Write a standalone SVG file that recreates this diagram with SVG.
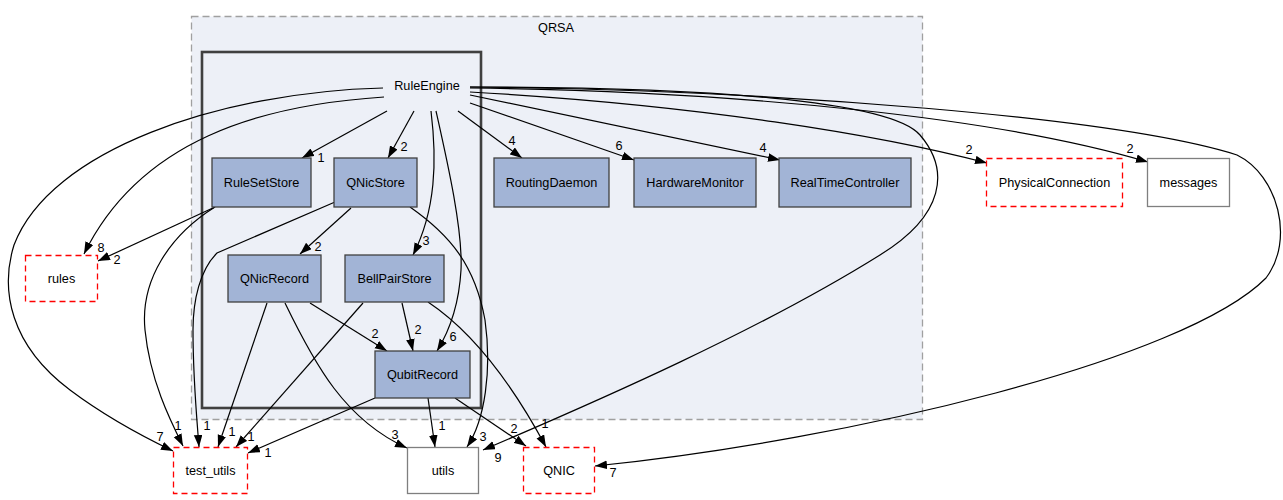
<svg xmlns="http://www.w3.org/2000/svg" width="1283" height="500" viewBox="0 0 1283 500">
<style>
text{font-family:"Liberation Sans",Arial,sans-serif;font-size:12.7px;fill:#000}
.n text,.lbl text{text-anchor:middle}
.blue rect{fill:#a2b4d6;stroke:#404040;stroke-width:1.3}
.red rect{fill:#fff;stroke:#ff0000;stroke-width:1.3;stroke-dasharray:6,4}
.gray rect{fill:#fff;stroke:#7f7f7f;stroke-width:1.3}
.e path{fill:none;stroke:#000;stroke-width:1.2;marker-end:url(#ah)}
</style>
<defs>
<marker id="ah" markerUnits="userSpaceOnUse" markerWidth="12" markerHeight="9" refX="12" refY="4.3" orient="auto">
<path d="M0,0 L12,4.3 L0,8.6 z" fill="#000"/>
</marker>
</defs>
<rect width="1283" height="500" fill="#fff"/>
<g id="cluster_QRSA">
<rect x="191.5" y="16.5" width="731" height="403" fill="#edf0f7" stroke="#a0a0a0" stroke-width="1.3" stroke-dasharray="7,4"/>
<text x="556" y="32" text-anchor="middle">QRSA</text>
</g>
<g id="cluster_RuleEngine">
<rect x="202" y="52" width="279" height="356" fill="#edf0f7" stroke="#404040" stroke-width="2.6"/>
<text x="427" y="90" text-anchor="middle">RuleEngine</text>
</g>
<g class="e" id="edges">
<path d="M387,111 L302,158"/>
<path d="M414,111 L388,158"/>
<path d="M431,111 C437,160 436,210 413,255"/>
<path d="M436,111 C447,160 463,230 461,270 C459,305 450,330 437,351"/>
<path d="M458,111 L522,158"/>
<path d="M470,103 L634,160"/>
<path d="M470,95 L780,160"/>
<path d="M470,92 C700,105 880,135 987,163"/>
<path d="M470,88 C750,92 1000,118 1148,162"/>
<path d="M470,87 C780,90 1120,118 1237,155 C1278,175 1295,240 1266,278 C1185,360 850,440 595,466"/>
<path d="M470,87 C700,87 890,100 920,135 C950,170 945,215 880,255 C760,330 600,400 483,450"/>
<path d="M384,97 C260,105 140,140 84,254"/>
<path d="M383,88 C220,92 50,150 14,245 C0,290 10,345 70,390 C110,420 150,440 173,451"/>
<path d="M215,207 L98,261"/>
<path d="M215,207 C170,235 140,280 145,330 C150,380 170,420 183,446"/>
<path d="M335,202 L217,253 C200,270 193,300 193,330 C193,380 197,420 199,447"/>
<path d="M351,208 L300,254"/>
<path d="M410,207 C450,235 475,265 485,320 C492,370 485,420 467,447"/>
<path d="M267,303 L218,447"/>
<path d="M285,303 C315,365 345,420 407,448"/>
<path d="M310,303 L387,351"/>
<path d="M363,303 L236,447"/>
<path d="M402,303 L413,351"/>
<path d="M428,302 C470,330 510,380 546,447"/>
<path d="M375,398 L248,453"/>
<path d="M428,398 L435,447"/>
<path d="M455,398 L526,446"/>
</g>
<g class="lbl" id="edge_labels">
<text x="321" y="162">1</text>
<text x="404" y="151">2</text>
<text x="426" y="245">3</text>
<text x="453" y="341">6</text>
<text x="512" y="145">4</text>
<text x="619" y="150">6</text>
<text x="763" y="152">4</text>
<text x="969" y="154">2</text>
<text x="1130" y="153">2</text>
<text x="613" y="477">7</text>
<text x="498" y="462">9</text>
<text x="101" y="252">8</text>
<text x="160" y="441">7</text>
<text x="117" y="264">2</text>
<text x="178" y="430">1</text>
<text x="207" y="430">1</text>
<text x="318" y="251">2</text>
<text x="483" y="441">3</text>
<text x="232" y="436">1</text>
<text x="395" y="439">3</text>
<text x="375" y="338">2</text>
<text x="251" y="441">1</text>
<text x="418" y="334">2</text>
<text x="545" y="428">1</text>
<text x="268" y="457">1</text>
<text x="442" y="430">1</text>
<text x="514" y="433">2</text>
</g>
<g id="RuleSetStore" class="n blue"><rect x="212" y="158" width="99" height="49"/><text x="261.5" y="187">RuleSetStore</text></g>
<g id="QNicStore" class="n blue"><rect x="334" y="158" width="83" height="49"/><text x="375.5" y="187">QNicStore</text></g>
<g id="RoutingDaemon" class="n blue"><rect x="494" y="158" width="115" height="49"/><text x="551.5" y="187">RoutingDaemon</text></g>
<g id="HardwareMonitor" class="n blue"><rect x="634" y="158" width="122" height="49"/><text x="695" y="187">HardwareMonitor</text></g>
<g id="RealTimeController" class="n blue"><rect x="779" y="158" width="132" height="49"/><text x="845" y="187">RealTimeController</text></g>
<g id="PhysicalConnection" class="n red"><rect x="986.5" y="158.5" width="136" height="48"/><text x="1054.5" y="187">PhysicalConnection</text></g>
<g id="messages" class="n gray"><rect x="1147.5" y="158.5" width="82" height="48"/><text x="1188.5" y="187">messages</text></g>
<g id="QNicRecord" class="n blue"><rect x="228" y="255" width="93" height="47"/><text x="274.5" y="283">QNicRecord</text></g>
<g id="BellPairStore" class="n blue"><rect x="345" y="255" width="99" height="47"/><text x="394.5" y="283">BellPairStore</text></g>
<g id="QubitRecord" class="n blue"><rect x="375" y="351" width="95" height="47"/><text x="422.5" y="379">QubitRecord</text></g>
<g id="rules" class="n red"><rect x="25.5" y="255.5" width="72" height="46"/><text x="61.5" y="283">rules</text></g>
<g id="test_utils" class="n red"><rect x="173.5" y="447.5" width="74" height="46"/><text x="210.5" y="475">test_utils</text></g>
<g id="utils" class="n gray"><rect x="407.5" y="447.5" width="71" height="46"/><text x="443" y="475">utils</text></g>
<g id="QNIC" class="n red"><rect x="523.5" y="447.5" width="71" height="46"/><text x="559" y="475">QNIC</text></g>
</svg>
